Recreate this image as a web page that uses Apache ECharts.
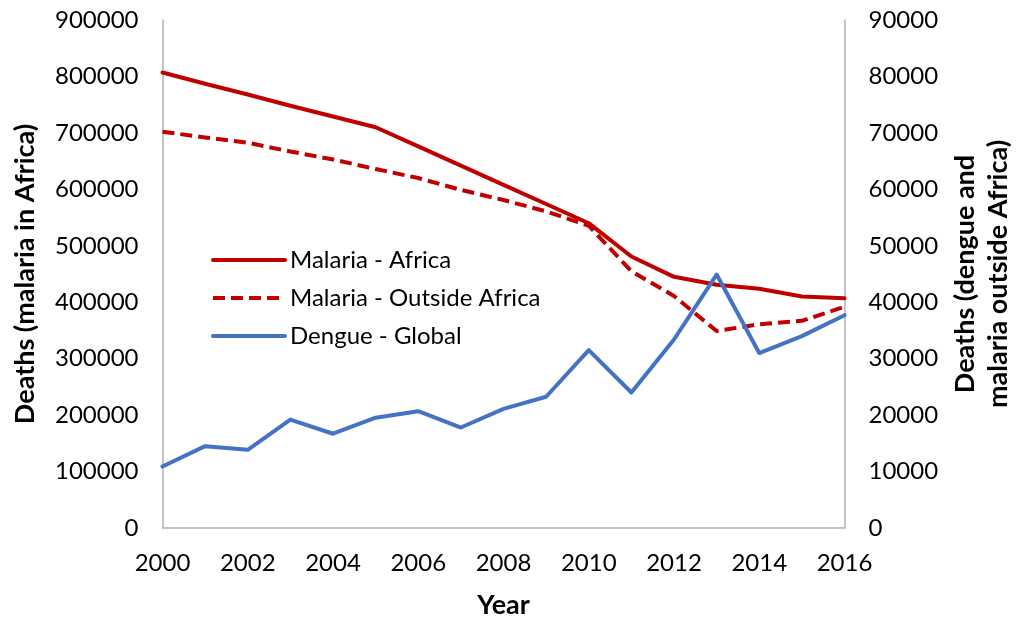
<!DOCTYPE html>
<html>
<head>
<meta charset="utf-8">
<script src="https://cdn.jsdelivr.net/npm/echarts@6/dist/echarts.min.js"></script>
<style>
html,body{margin:0;padding:0;background:#fff;overflow:hidden;width:1023px;height:624px;}
#chart{position:absolute;left:0;top:0;width:1023px;height:624px;}
</style>
</head>
<body>
<div id="chart"></div>
<script>
var years = ['2000','2001','2002','2003','2004','2005','2006','2007','2008','2009','2010','2011','2012','2013','2014','2015','2016'];
var malariaAfrica = [807000, 787000, 768000, 748000, 729000, 710000, 676000, 642000, 608000, 574000, 540000, 481000, 445000, 431000, 424000, 410000, 407000];
var malariaOutside = [70200, 69200, 68250, 66700, 65300, 63600, 62000, 59900, 58100, 56100, 53550, 45500, 41100, 34900, 36100, 36700, 39200];
var dengueGlobal = [10900, 14500, 13850, 19200, 16700, 19550, 20700, 17800, 21100, 23250, 31500, 24000, 33400, 44900, 31000, 34000, 37700];
var seriesNames = ['Malaria - Africa', 'Malaria - Outside Africa', 'Dengue - Global'];

var FONT = 'Lato';
var chart = echarts.init(document.getElementById('chart'), null, {renderer: 'canvas', width: 1023, height: 624});
var axisLineStyle = {color: '#b3b3b3', width: 1.5};
var labelStyle = {color: '#000', fontFamily: FONT, fontSize: 24};
var nameStyle = {color: '#000', fontFamily: FONT, fontSize: 27, fontWeight: 'bold'};
var plain = function (v) { return String(v); };

chart.setOption({
  animation: false,
  backgroundColor: '#fff',
  grid: {left: 162.5, right: 174, top: 20, bottom: 95, containLabel: false},
  legend: {
    orient: 'vertical',
    left: 206,
    top: 243,
    itemWidth: 72,
    itemHeight: 14,
    itemGap: 14,
    itemStyle: {opacity: 0},
    lineStyle: {width: 4},
    textStyle: {color: '#000', fontFamily: FONT, fontSize: 24, lineHeight: 24},
    data: seriesNames
  },
  xAxis: {
    type: 'category',
    data: years,
    boundaryGap: false,
    name: 'Year',
    nameLocation: 'middle',
    nameGap: 64,
    nameTextStyle: nameStyle,
    axisLine: {lineStyle: axisLineStyle},
    axisTick: {show: false},
    axisLabel: Object.assign({interval: 1, margin: 23}, labelStyle),
    splitLine: {show: false}
  },
  yAxis: [{
    type: 'value',
    min: 0, max: 900000, interval: 100000,
    name: 'Deaths (malaria in Africa)',
    nameLocation: 'middle',
    nameRotate: 90,
    nameGap: 124,
    nameTextStyle: nameStyle,
    axisLine: {show: true, lineStyle: axisLineStyle},
    axisTick: {show: false},
    axisLabel: Object.assign({margin: 24, formatter: plain}, labelStyle),
    splitLine: {show: false}
  }, {
    type: 'value',
    position: 'right',
    min: 0, max: 90000, interval: 10000,
    name: 'Deaths (dengue and\nmalaria outside Africa)',
    nameLocation: 'middle',
    nameRotate: 90,
    nameGap: 104,
    nameTextStyle: Object.assign({lineHeight: 33}, nameStyle),
    axisLine: {show: true, lineStyle: axisLineStyle},
    axisTick: {show: false},
    axisLabel: Object.assign({margin: 24, formatter: plain}, labelStyle),
    splitLine: {show: false}
  }],
  series: [{
    name: seriesNames[0],
    type: 'line',
    yAxisIndex: 0,
    data: malariaAfrica,
    symbol: 'none',
    color: '#c00000',
    lineStyle: {color: '#c00000', width: 4, cap: 'round', join: 'round'}
  }, {
    name: seriesNames[1],
    type: 'line',
    yAxisIndex: 1,
    data: malariaOutside,
    symbol: 'none',
    color: '#c00000',
    lineStyle: {color: '#c00000', width: 4, type: [12, 6], cap: 'butt', join: 'round'}
  }, {
    name: seriesNames[2],
    type: 'line',
    yAxisIndex: 1,
    data: dengueGlobal,
    symbol: 'none',
    color: '#4472c4',
    lineStyle: {color: '#4472c4', width: 4, cap: 'round', join: 'round'}
  }]
});
</script>
</body>
</html>
